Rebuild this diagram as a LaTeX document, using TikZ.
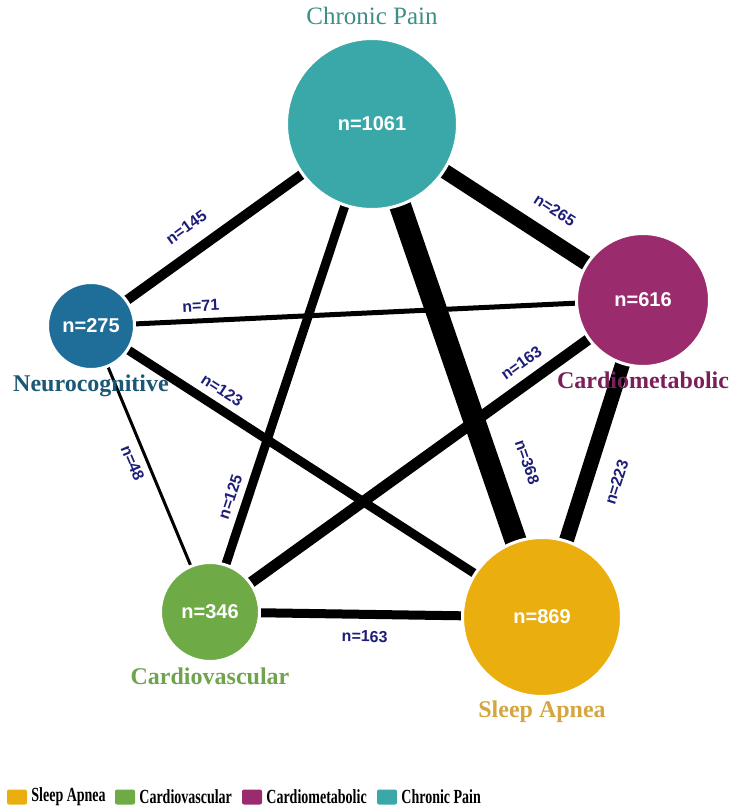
\documentclass[tikz,border=0pt]{standalone}
\usepackage{fontspec}
\setmainfont{Liberation Serif}
\setsansfont{Liberation Sans}
\newfontfamily\legendfont[FakeStretch=0.7]{Liberation Serif}
\usetikzlibrary{positioning}
\pgfdeclarelayer{background}
\pgfsetlayers{background,main}
\definecolor{painteal}{HTML}{3AA8A8}
\definecolor{painlabel}{HTML}{3B8F84}
\definecolor{neuroblue}{HTML}{1F6E99}
\definecolor{neurolabel}{HTML}{1B5876}
\definecolor{metabpurple}{HTML}{9A2C6E}
\definecolor{metablabel}{HTML}{7A1F5A}
\definecolor{vascgreen}{HTML}{6EAA45}
\definecolor{vasclabel}{HTML}{6FA34E}
\definecolor{apneagold}{HTML}{EAAE0F}
\definecolor{apnealabel}{HTML}{D3A640}
\definecolor{countnavy}{HTML}{1E1E78}
\tikzset{
    group/.style={circle, draw=white, line width=3pt, inner sep=0pt, text=white,
      font=\sffamily\bfseries\fontsize{20}{20}\selectfont},
    grouplabel/.style={inner sep=0pt, font=\bfseries\fontsize{24}{24}\selectfont},
    link/.style={line width=#1pt, black},
    count/.style={sloped, inner sep=0pt, text=countnavy,
      font=\sffamily\bfseries\fontsize{16}{16}\selectfont},
    swatch/.style={rounded corners=2pt, minimum width=20pt, minimum height=15pt,
      inner sep=0pt, fill=#1},
    legendtext/.style={inner sep=0pt, font=\legendfont\bfseries\fontsize{20}{20}\selectfont},
}

\begin{document}
\begin{tikzpicture}[x=1pt, y=-1pt]
    \useasboundingbox (0,0) rectangle (732,809);

    % groups
    \node[group, fill=painteal, minimum size=171pt] (cp) at (372,124) {n=1061};
    \node[group, fill=neuroblue, minimum size=87pt] (nc) at (91,326) {n=275};
    \node[group, fill=metabpurple, minimum size=133pt] (cm) at (643,300) {n=616};
    \node[group, fill=vascgreen, minimum size=99pt] (cv) at (210,612) {n=346};
    \node[group, fill=apneagold, minimum size=159pt] (sa) at (542,617) {n=869};

    \node[grouplabel, font=\fontsize{25}{25}\selectfont, text=painlabel, above=12pt of cp] (cpl) {Chronic Pain};
    \node[grouplabel, text=neurolabel, below=4pt of nc] (ncl) {Neurocognitive};
    \node[grouplabel, text=metablabel, below=4pt of cm] (cml) {Cardiometabolic};
    \node[grouplabel, text=vasclabel, below=5pt of cv] (cvl) {Cardiovascular};
    \node[grouplabel, text=apnealabel, below=3pt of sa] (sal) {Sleep Apnea};

    % links
    \begin{pgfonlayer}{background}
      \draw[link=10] (nc.center) -- node[count, pos=.39, above=14pt]{n=145} (cp.center);
      \draw[link=15] (cp.center) -- node[count, pos=.62, above=14pt]{n=265} (cm.center);
      \draw[link=5] (nc.center) -- node[count, pos=.2, above=7pt]{n=71} (cm.center);
      \draw[link=9] (nc.center) -- node[count, pos=.27, above=7pt]{n=123} (sa.center);
      \draw[link=3] (nc.center) -- node[count, pos=.46, below=7pt]{n=48} (cv.center);
      \draw[link=9] (cv.center) -- node[count, pos=.225, above=7pt]{n=125} (cp.center);
      \draw[link=11] (cv.center) -- node[count, pos=.746, above=9pt]{n=163} (cm.center);
      \draw[link=22] (cp.center) -- node[count, pos=.71, above=20pt]{n=368} (sa.center);
      \draw[link=15] (sa.center) -- node[count, pos=.454, below=17pt]{n=223} (cm.center);
      \draw[link=9] (cv.center) -- node[count, pos=.467, below=12pt]{n=163} (sa.center);
    \end{pgfonlayer}

    % legend
    \node[swatch=apneagold] (k1) at (17,797) {};
    \node[legendtext, right=4pt of k1] (k1t) {Sleep Apnea};
    \node[swatch=vascgreen] (k2) at (125,797) {};
    \node[legendtext, right=4pt of k2] (k2t) {Cardiovascular};
    \node[swatch=metabpurple] (k3) at (252,797) {};
    \node[legendtext, right=4pt of k3] (k3t) {Cardiometabolic};
    \node[swatch=painteal] (k4) at (387,797) {};
    \node[legendtext, right=4pt of k4] (k4t) {Chronic Pain};
\end{tikzpicture}
\end{document}
